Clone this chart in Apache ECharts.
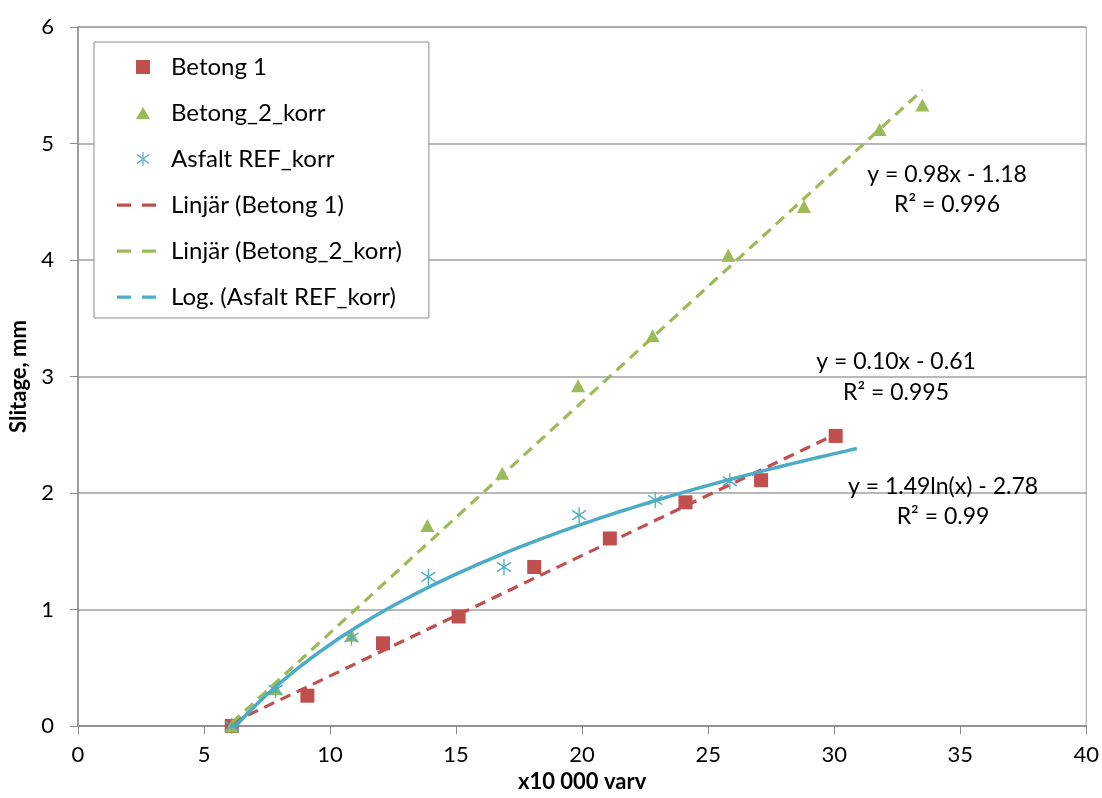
<!DOCTYPE html>
<html>
<head>
<meta charset="utf-8">
<script src="https://cdn.jsdelivr.net/npm/echarts@6/dist/echarts.min.js"></script>
<style>
html,body{margin:0;padding:0;background:#fff;}
#chart{width:1102px;height:798px;}
</style>
</head>
<body>
<div id="chart"></div>
<script>
// ---- data ----
const betong1X = [6.1, 9.1, 12.1, 15.1, 18.1, 21.1, 24.1, 27.1, 30.06];
const betong1Y = [0, 0.26, 0.71, 0.94, 1.365, 1.61, 1.92, 2.11, 2.49];
const betong2X = [6.1, 7.84, 10.85, 13.86, 16.83, 19.84, 22.8, 25.8, 28.8, 31.8, 33.5];
const betong2Y = [0, 0.32, 0.78, 1.72, 2.17, 2.92, 3.35, 4.04, 4.46, 5.12, 5.33];
const asfaltX = [6.1, 7.84, 10.85, 13.9, 16.9, 19.88, 22.9, 25.86];
const asfaltY = [0, 0.31, 0.76, 1.28, 1.365, 1.81, 1.94, 2.10];
const seriesNames = ['Betong 1', 'Betong_2_korr', 'Asfalt REF_korr',
  'Linjär (Betong 1)', 'Linjär (Betong_2_korr)', 'Log. (Asfalt REF_korr)'];
const eqBetong2 = ['y = 0.98x - 1.18', 'R² = 0.996'];
const eqBetong1 = ['y = 0.10x - 0.61', 'R² = 0.995'];
const eqAsfalt = ['y = 1.49ln(x) - 2.78', 'R² = 0.99'];
const logTrendEnd = 30.9; // forecast end of the log trendline
const xAxisTitle = 'x10 000 varv';
const yAxisTitle = 'Slitage, mm';

// ---- helpers: least-squares trendlines (as Excel computes them) ----
function linFit(xs, ys) {
  const n = xs.length;
  let sx = 0, sy = 0, sxx = 0, sxy = 0;
  for (let i = 0; i < n; i++) { sx += xs[i]; sy += ys[i]; sxx += xs[i]*xs[i]; sxy += xs[i]*ys[i]; }
  const a = (n*sxy - sx*sy) / (n*sxx - sx*sx);
  const b = (sy - a*sx) / n;
  return {a, b};
}
function zip(xs, ys) { return xs.map((x, i) => [x, ys[i]]); }

const f1 = linFit(betong1X, betong1Y);
const x1min = Math.min(...betong1X), x1max = Math.max(...betong1X);
const trend1 = [[x1min, f1.a*x1min + f1.b], [x1max, f1.a*x1max + f1.b]];

const f2 = linFit(betong2X, betong2Y);
const x2min = Math.min(...betong2X), x2max = Math.max(...betong2X);
const trend2 = [[x2min, f2.a*x2min + f2.b], [x2max, f2.a*x2max + f2.b]];

const f3 = linFit(asfaltX.map(Math.log), asfaltY);
const x3min = Math.min(...asfaltX);
const trend3 = [];
for (let i = 0; i <= 80; i++) {
  const x = x3min + (logTrendEnd - x3min) * i / 80;
  trend3.push([x, f3.a*Math.log(x) + f3.b]);
}

const RED = '#C0504D', GREEN = '#9BBB59', BLUE = '#4BACC6';
const FONT = 'Lato';
// legend icons: every icon spans a 40x14 box (tiny invisible corner dots fix the box)
const box = 'M0,0h0.01v0.01h-0.01zM39.99,13.99h0.01v0.01h-0.01z';
const dashIcon = 'path://' + box + 'M0,5.5h14v3.2h-14zM25,5.5h14v3.2h-14z';
const rectIcon = 'path://' + box + 'M19,0h14v14h-14z';
const triIcon = 'path://' + box + 'M26,1L33,13L19,13z';
const starIcon = 'path://' + box + 'M25.4,0h1.2v14h-1.2z' +
  'M19.64,2.98L31.64,11.98L32.36,11.02L20.36,2.02z' +
  'M32.36,2.98L20.36,11.98L19.64,11.02L31.64,2.02z';
const starPath = 'path://M5,0L5,12M0,2.5L10,9.5M10,2.5L0,9.5';

const chart = echarts.init(document.getElementById('chart'), null, {renderer: 'canvas'});
const gridCol = '#A0A0A0';

const eqStyle = {fontFamily: FONT, fontSize: 23, fill: '#000', textAlign: 'center', textVerticalAlign: 'middle'};
function eqText(txt, x, y) { return {type: 'text', x: x, y: y, style: Object.assign({text: txt}, eqStyle), z: 100}; }

chart.setOption({
  animation: false,
  backgroundColor: '#fff',
  textStyle: {fontFamily: FONT},
  grid: {left: 78, right: 15, top: 27, bottom: 69, show: true, borderColor: gridCol, borderWidth: 1, containLabel: false},
  xAxis: {
    type: 'value', min: 0, max: 40, interval: 5,
    name: xAxisTitle, nameLocation: 'middle', nameGap: 45,
    nameTextStyle: {fontFamily: FONT, fontSize: 22, fontWeight: 'bold', color: '#000'},
    axisLine: {show: true, onZero: false, lineStyle: {color: '#8C8C8C', width: 1.5}},
    axisTick: {show: true, length: 8, inside: false, lineStyle: {color: '#8C8C8C'}},
    axisLabel: {fontFamily: FONT, fontSize: 22, color: '#000', margin: 18},
    splitLine: {show: false}
  },
  yAxis: {
    type: 'value', min: 0, max: 6, interval: 1,
    name: yAxisTitle, nameLocation: 'middle', nameGap: 47, nameRotate: 90,
    nameTextStyle: {fontFamily: FONT, fontSize: 22, fontWeight: 'bold', color: '#000'},
    axisLine: {show: true, lineStyle: {color: '#8C8C8C', width: 1.5}},
    axisTick: {show: true, length: 8, lineStyle: {color: '#8C8C8C'}},
    axisLabel: {fontFamily: FONT, fontSize: 22, color: '#000', margin: 24},
    splitLine: {show: true, lineStyle: {color: gridCol, width: 1.5}}
  },
  legend: {
    orient: 'vertical', left: 94, top: 42,
    padding: [13, 27, 9, 23],
    itemGap: 22, itemWidth: 40, itemHeight: 14,
    borderColor: '#8C8C8C', borderWidth: 1, backgroundColor: '#fff',
    textStyle: {fontFamily: FONT, fontSize: 24, color: '#000', padding: [0, 0, 0, 9]},
    data: [
      {name: seriesNames[0], icon: rectIcon},
      {name: seriesNames[1], icon: triIcon},
      {name: seriesNames[2], icon: starIcon, itemStyle: {color: BLUE, borderWidth: 0, borderColor: 'rgba(0,0,0,0)'}},
      {name: seriesNames[3], icon: dashIcon},
      {name: seriesNames[4], icon: dashIcon},
      {name: seriesNames[5], icon: dashIcon}
    ]
  },
  series: [
    {name: seriesNames[0], type: 'scatter', data: zip(betong1X, betong1Y), symbol: 'rect', symbolSize: 14,
      itemStyle: {color: RED, opacity: 1}, z: 2},
    {name: seriesNames[1], type: 'scatter', data: zip(betong2X, betong2Y), symbol: 'triangle', symbolSize: [14, 13],
      itemStyle: {color: GREEN, opacity: 1}, z: 2},
    {name: seriesNames[2], type: 'scatter', data: zip(asfaltX, asfaltY), symbol: starPath, symbolSize: [14, 16],
      itemStyle: {color: 'rgba(0,0,0,0)', borderColor: BLUE, borderWidth: 1.4, opacity: 1}, z: 2},
    {name: seriesNames[3], type: 'line', data: trend1, showSymbol: false, symbol: 'none',
      itemStyle: {color: RED}, lineStyle: {color: RED, width: 3.2, type: [11, 7]}, z: 3},
    {name: seriesNames[4], type: 'line', data: trend2, showSymbol: false, symbol: 'none',
      itemStyle: {color: GREEN}, lineStyle: {color: GREEN, width: 3.2, type: [11, 7]}, z: 3},
    {name: seriesNames[5], type: 'line', data: trend3, showSymbol: false, symbol: 'none', smooth: false,
      itemStyle: {color: BLUE}, lineStyle: {color: BLUE, width: 3.5}, z: 4}
  ],
  graphic: [
    eqText(eqBetong2[0], 947, 175), eqText(eqBetong2[1], 947, 205),
    eqText(eqBetong1[0], 896, 362), eqText(eqBetong1[1], 896, 393),
    eqText(eqAsfalt[0], 943, 487), eqText(eqAsfalt[1], 943, 517)
  ]
});
</script>
</body>
</html>
